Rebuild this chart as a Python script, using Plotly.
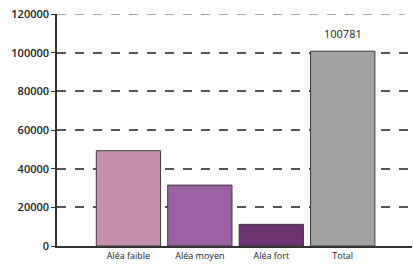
import plotly.graph_objects as go

categories = ["Aléa faible", "Aléa moyen", "Aléa fort", "Total"]
values = [49300, 31500, 11200, 100781]
bar_colors = ["#c490ae", "#9a62a3", "#6d3270", "#a3a3a3"]
label_index = 3
label_text = "100781"
y_ticks = [0, 20000, 40000, 60000, 80000, 100000, 120000]

fig = go.Figure()
fig.add_trace(go.Bar(
    x=list(range(len(categories))), y=values,
    marker=dict(color=bar_colors, line=dict(color="#3c3c3c", width=1)),
    width=0.9,
))

fig.add_annotation(x=label_index, y=values[label_index], text=label_text,
                   showarrow=False, yanchor="bottom", yshift=8,
                   font=dict(family="Open Sans", size=11, color="#222"))

fig.add_shape(type="line", xref="paper", yref="y", x0=0, x1=0.98, y0=120000, y1=120000,
              line=dict(color="#a8a8a8", width=2, dash="dash"), layer="below")

fig.update_layout(
    width=413, height=264,
    margin=dict(l=57, r=1, t=14, b=18),
    paper_bgcolor="white", plot_bgcolor="white",
    showlegend=False,
    bargap=0.1,
    font=dict(family="Open Sans", color="#333"),
)
fig.update_xaxes(
    range=[-1, 3.97],
    tickvals=list(range(len(categories))), ticktext=categories,
    tickfont=dict(size=9, color="#222"),
    showline=True, linecolor="#333", linewidth=1.5,
    showgrid=False, ticks="", zeroline=False,
)
fig.update_yaxes(
    range=[0, 120000],
    tickvals=y_ticks, ticktext=[str(v) for v in y_ticks],
    tickfont=dict(size=11, color="#222", weight=600),
    showline=True, linecolor="#333", linewidth=1.5,
    ticks="outside", ticklen=4, tickcolor="#333",
    showgrid=True, gridcolor="#555", gridwidth=2, griddash="dash",
    zeroline=False,
)
fig.write_html("out.html", config={"displayModeBar": False},
               post_script="document.body.style.margin='0';document.body.style.overflow='hidden';")
